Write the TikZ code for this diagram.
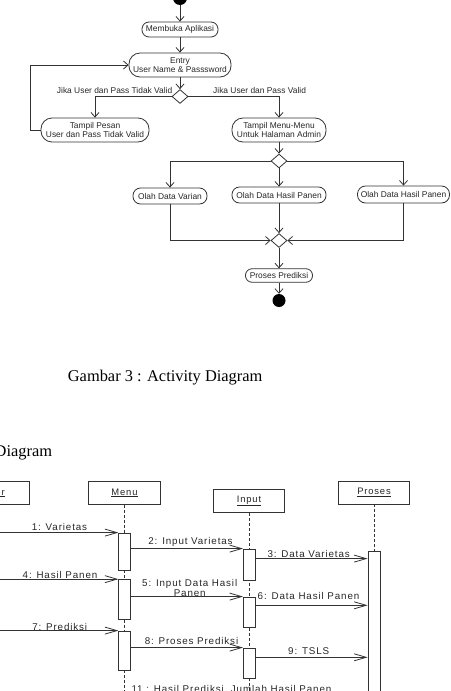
\documentclass[tikz,border=0pt]{standalone}
\usepackage{fontspec}
\setmainfont{Liberation Sans}
\newfontfamily\capfont{Liberation Serif}
\newfontfamily\seqfont[LetterSpace=9]{Liberation Sans}
\usetikzlibrary{arrows.meta,shapes.geometric,calc}
\begin{document}
\begin{tikzpicture}[x=1pt,y=-1pt,
  ln/.style={draw=black!80, line width=0.8pt},
  act/.style={ln, align=center, inner sep=0pt, font=\fontsize{8.4}{9.1}\selectfont, text=black!85},
  dec/.style={ln, diamond, inner sep=0pt, minimum width=16pt, minimum height=14pt},
  dot/.style={circle, fill=black, inner sep=0pt},
  aarr/.style={ln, -{Straight Barb[length=4.5pt,width=8pt]}},
  albl/.style={inner sep=0pt, font=\fontsize{8.4}{9.1}\selectfont, text=black!85},
  hd/.style={ln, fill=white, inner sep=0pt, minimum width=71.5pt, font=\seqfont\fontsize{9.4}{11}\selectfont, text=black!85},
  life/.style={ln, line width=0.9pt, dash pattern=on 3pt off 2pt},
  actv/.style={ln, fill=white, inner sep=0pt, minimum width=11.5pt},
  sarr/.style={ln, -{Straight Barb[length=12pt,width=7pt]}},
  slbl/.style={inner sep=0pt, font=\seqfont\fontsize{9.8}{9.5}\selectfont, text=black!85, anchor=base},
  captxt/.style={inner sep=0pt, font=\capfont\fontsize{16.4}{18}\selectfont, anchor=base west}
]
\useasboundingbox (0,0) rectangle (450,691);
\clip (0,0) rectangle (450,691);

% ---------- Activity diagram ----------
\node[dot, minimum size=14pt] (start) at (180,-2) {};
\node[act, minimum width=76pt, minimum height=15pt, rounded corners=7pt] (memb) at (180,29.5) {Membuka Aplikasi};
\node[act, minimum width=102pt, minimum height=24pt, rounded corners=11pt] (entry) at (180,65) {Entry\\User Name \& Passsword};
\node[dec] (d1) at (180,96.5) {};
\node[act, minimum width=108pt, minimum height=24pt, rounded corners=11pt] (pesan) at (95,130) {Tampil Pesan\\User dan Pass Tidak Valid};
\node[act, minimum width=94pt, minimum height=24pt, rounded corners=11pt] (menu) at (279,130) {Tampil Menu-Menu\\Untuk Halaman Admin};
\node[dec] (d2) at (279,161) {};
\node[act, minimum width=74pt, minimum height=16pt, rounded corners=7.5pt] (varian) at (170,196) {Olah Data Varian};
\node[act, minimum width=94pt, minimum height=16pt, rounded corners=7.5pt] (hasilM) at (279,195) {Olah Data Hasil Panen};
\node[act, minimum width=92pt, minimum height=17pt, rounded corners=8pt] (hasilR) at (403.5,194.5) {Olah Data Hasil Panen};
\node[dec] (d3) at (279,240.5) {};
\node[act, minimum width=67pt, minimum height=13.5pt, rounded corners=6.5pt] (prosesP) at (279,275.5) {Proses Prediksi};
\node[dot, minimum size=13pt] (fin) at (279,300.5) {};

\node[albl, anchor=east] (lt) at (172.5,90) {Jika User dan Pass Tidak Valid};
\node[albl, anchor=west] (lv) at (213,90) {Jika User dan Pass Valid};

\draw[aarr] (start) -- (memb);
\draw[aarr] (memb) -- (entry);
\draw[aarr] (entry) -- (d1);
\draw[aarr] (d1.west) -| (pesan.north);
\draw[aarr] (d1.east) -| (menu.north);
\draw[aarr] (pesan.west) -- ++(-10,0) |- (entry.west);
\draw[aarr] (menu) -- (d2);
\draw[aarr] (d2.west) -| (varian.north);
\draw[aarr] (d2.east) -| (hasilR.north);
\draw[aarr] (d2) -- (hasilM);
\draw[aarr] (varian.south) |- (d3.west);
\draw[aarr] (hasilR.south) |- (d3.east);
\draw[aarr] (hasilM) -- (d3);
\draw[aarr] (d3) -- (prosesP);
\draw[aarr] (prosesP) -- (fin);

% ---------- Captions ----------
\node[captxt] (caption) at (67.7,381) {Gambar 3 : Activity Diagram};
\node[captxt] (sdtitle) at (-5.5,456.7) {Diagram};

% ---------- Sequence diagram ----------
\coordinate (bot) at (0,700);
\node[hd, minimum height=22.5pt] (huser) at (-6.5,493) {\underline{User}};
\node[hd, minimum height=22.5pt] (hmenu) at (124.5,493) {\underline{Menu}};
\node[hd, minimum height=23.5pt] (hinput) at (249,501) {\underline{Input}};
\node[hd, minimum height=23pt] (hproses) at (374,492.5) {\underline{Proses}};

\draw[life] (huser.south) -- (huser.south |- bot);
\draw[life] (hmenu.south) -- (hmenu.south |- bot);
\draw[life] (hinput.south) -- (hinput.south |- bot);
\draw[life] (hproses.south) -- (hproses.south |- bot);

\node[actv, minimum height=37pt] (m1) at (124.5,551.5) {};
\node[actv, minimum height=39.5pt] (m2) at (124.5,599.3) {};
\node[actv, minimum height=39pt] (m3) at (124.5,650.5) {};
\node[actv, minimum height=31pt] (i1) at (249.2,564.5) {};
\node[actv, minimum height=30pt] (i2) at (249.2,612) {};
\node[actv, minimum height=30pt] (i3) at (249.2,663) {};
\node[actv, minimum height=169pt, minimum width=12pt] (p1) at (374,635.5) {};

\coordinate (c3) at ([yshift=-10pt]i1.north east);
\coordinate (c6) at ([yshift=-8.7pt]i2.north east);
\coordinate (c9) at ([yshift=-9.7pt]i3.north east);

\draw[sarr] (huser.south |- m1.north west) -- (m1.north west);
\draw[sarr] (m1.east |- i1.north west) -- (i1.north west);
\draw[sarr] (c3) -- (c3 -| p1.west);
\draw[sarr] (huser.south |- m2.north west) -- (m2.north west);
\draw[sarr] (m2.east |- i2.north west) -- (i2.north west);
\draw[sarr] (c6) -- (c6 -| p1.west);
\draw[sarr] (huser.south |- m3.north west) -- (m3.north west);
\draw[sarr] (m3.east |- i3.north west) -- (i3.north west);
\draw[sarr] (c9) -- (c9 -| p1.west);

\node[slbl] (l1) at (59.5,530.3) {1: Varietas};
\node[slbl] (l2) at (190.5,544) {2: Input Varietas};
\node[slbl] (l3) at (308.7,557.5) {3: Data Varietas};
\node[slbl] (l4) at (60,578.3) {4: Hasil Panen};
\node[slbl] (l5a) at (189.7,586.7) {5: Input Data Hasil};
\node[slbl] (l5b) at (189.7,596) {Panen};
\node[slbl] (l6) at (308.5,599.3) {6: Data Hasil Panen};
\node[slbl] (l7) at (59.7,630) {7: Prediksi};
\node[slbl] (l8) at (191.5,644) {8: Proses Prediksi};
\node[slbl] (l9) at (308.7,654) {9: TSLS};
\node[slbl] (l11) at (231.5,692) {11 : Hasil Prediksi, Jumlah Hasil Panen};
\end{tikzpicture}
\end{document}
